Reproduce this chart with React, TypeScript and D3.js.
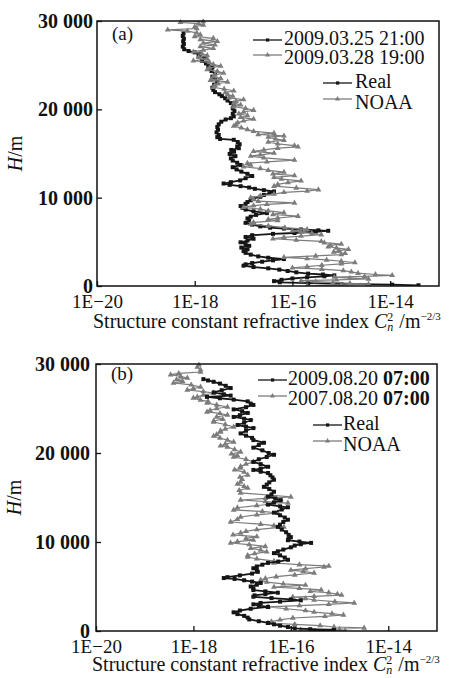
import React, { useEffect, useRef } from "react";
import * as d3 from "d3";

type Pt = [number, number]; // [height in m, Cn2]

const xTickValues = [1e-20, 1e-18, 1e-16, 1e-14];
const xTickLabels = ["1E\u221220", "1E-18", "1E-16", "1E-14"];
const yTickValues = [0, 10000, 20000, 30000];
const yTickLabels = ["0", "10 000", "20 000", "30 000"];
const seriesNames = ["Real", "NOAA"];
const datesA = ["2009.03.25 21:00", "2009.03.28 19:00"];
const datesB = ["2009.08.20 ", "2007.08.20 "];
const timesB = ["07:00", "07:00"];

// panel (a)
const realA: Pt[] = [
  [28600, 5.9e-19], [28300, 5.7e-19], [28000, 6.0e-19], [27700, 5.8e-19], [27400, 6.0e-19], [27100, 5.7e-19],
  [26800, 6.1e-19], [26600, 7.5e-19], [26450, 1.0e-18], [26300, 1.3e-18], [26050, 1.2e-18], [25800, 1.6e-18],
  [25500, 1.4e-18], [25200, 1.7e-18], [24950, 1.9e-18], [24750, 2.3e-18], [24600, 1.9e-18], [24350, 2.2e-18],
  [24000, 2.6e-18], [23700, 2.3e-18], [23400, 2.6e-18], [23100, 2.9e-18], [22800, 2.5e-18], [22450, 2.3e-18],
  [22200, 2.4e-18], [21950, 2.6e-18], [21700, 3.2e-18], [21500, 3.6e-18], [21250, 4.2e-18], [21000, 4.7e-18],
  [20700, 5.5e-18], [20400, 6.3e-18], [20100, 6.0e-18], [19800, 6.5e-18], [19500, 6.0e-18], [19200, 6.3e-18],
  [19000, 5.5e-18], [18850, 4.3e-18], [18600, 3.5e-18], [18300, 3.1e-18], [18000, 2.9e-18], [17700, 3.0e-18],
  [17400, 2.8e-18], [17100, 3.1e-18], [16850, 2.9e-18], [16650, 3.3e-18], [16550, 6.3e-18], [16300, 7.6e-18],
  [16050, 8.3e-18], [15800, 7.4e-18], [15600, 8.0e-18], [15400, 5.6e-18], [15200, 6.4e-18], [14950, 5.2e-18],
  [14700, 6.8e-18], [14450, 5.5e-18], [14200, 6.0e-18], [13950, 7.4e-18], [13700, 8.7e-18], [13450, 6.0e-18],
  [13200, 7.2e-18], [12950, 9.0e-18], [12700, 1.2e-17], [12450, 1.5e-17], [12200, 1.1e-17], [11950, 8.5e-18],
  [11750, 5.5e-18], [11600, 3.9e-18], [11450, 5.2e-18], [11300, 8.7e-18], [11150, 1.3e-17], [11000, 1.7e-17],
  [10850, 2.6e-17], [10700, 4.2e-17], [10500, 3.4e-17], [10300, 2.6e-17], [10100, 2.2e-17], [9900, 1.6e-17],
  [9700, 1.4e-17], [9500, 1.2e-17], [9300, 1.1e-17], [9050, 8.7e-18], [8850, 9.5e-18], [8650, 1.1e-17],
  [8450, 1.6e-17], [8250, 3.0e-17], [8050, 1.8e-17], [7850, 1.4e-17], [7650, 1.2e-17], [7400, 1.3e-17],
  [7150, 1.1e-17], [6950, 1.5e-17], [6750, 2.2e-17], [6600, 3.5e-17], [6500, 6.7e-17], [6400, 1.5e-16],
  [6300, 3.4e-16], [6250, 5.4e-16], [6150, 3.0e-16], [6000, 1.1e-16], [5900, 4.0e-17], [5750, 1.5e-17],
  [5550, 1.1e-17], [5350, 1.6e-17], [5150, 1.2e-17], [4950, 8.7e-18], [4750, 1.1e-17], [4550, 1.3e-17],
  [4350, 9.0e-18], [4150, 1.2e-17], [3950, 1.0e-17], [3750, 1.1e-17], [3550, 1.4e-17], [3350, 2.0e-17],
  [3200, 3.2e-17], [3050, 6.7e-17], [2900, 4.0e-17], [2750, 2.4e-17], [2600, 1.5e-17], [2450, 1.1e-17],
  [2300, 1.0e-17], [2150, 1.6e-17], [2000, 3.2e-17], [1850, 5.4e-17], [1700, 8.0e-17], [1550, 1.2e-16],
  [1400, 2.1e-16], [1300, 4.2e-16], [1200, 7.2e-16], [1100, 4.5e-16], [980, 2.0e-16], [850, 1.0e-16],
  [700, 6.0e-17], [550, 4.2e-17], [420, 5.5e-17], [320, 2.1e-16], [230, 1.0e-15], [150, 1.1e-14], [80, 3.8e-14],
];

const noaaA: Pt[] = [
  [29950, 1.5e-18], [29850, 5.1e-19], [29700, 1.2e-18], [29550, 1.5e-18], [29350, 1.0e-18], [29150, 1.1e-18],
  [29000, 2.8e-19], [28850, 7.1e-19], [28650, 1.1e-18], [28450, 1.3e-18], [28250, 1.0e-18], [28050, 2.4e-18],
  [27900, 1.3e-18], [27700, 2.9e-18], [27500, 1.5e-18], [27300, 2.6e-18], [27100, 1.3e-18], [26900, 2.4e-18],
  [26700, 1.5e-18], [26500, 9.4e-19], [26300, 1.4e-18], [26100, 1.8e-18], [25900, 1.2e-18], [25700, 1.8e-18],
  [25500, 9.4e-19], [25300, 2.0e-18], [25100, 2.4e-18], [24900, 3.4e-18], [24700, 2.0e-18], [24500, 1.8e-18],
  [24300, 2.9e-18], [24100, 3.9e-18], [23900, 2.6e-18], [23700, 2.4e-18], [23500, 3.4e-18], [23300, 2.1e-18],
  [23100, 4.7e-18], [22900, 3.0e-18], [22700, 2.6e-18], [22500, 2.4e-18], [22300, 4.0e-18], [22100, 6.3e-18],
  [21900, 4.2e-18], [21700, 4.7e-18], [21500, 6.0e-18], [21300, 5.0e-18], [21100, 1.0e-17], [20900, 7.0e-18],
  [20700, 6.3e-18], [20500, 8.7e-18], [20300, 6.3e-18], [20100, 1.1e-17], [19900, 1.6e-17], [19700, 1.0e-17],
  [19500, 8.0e-18], [19300, 1.2e-17], [19100, 8.7e-18], [18900, 1.6e-17], [18700, 1.0e-17], [18500, 7.6e-18],
  [18300, 7.0e-18], [18100, 6.3e-18], [17900, 9.0e-18], [17700, 1.2e-17], [17500, 1.6e-17], [17300, 4.2e-17],
  [17150, 2.0e-17], [17000, 6.7e-17], [16850, 3.2e-17], [16650, 4.5e-17], [16500, 6.7e-17], [16300, 3.2e-17],
  [16100, 5.0e-17], [15900, 1.1e-16], [15750, 1.3e-16], [15600, 5.0e-17], [15400, 2.6e-17], [15250, 1.6e-17],
  [15050, 4.2e-17], [14850, 2.2e-17], [14700, 1.4e-17], [14500, 2.6e-17], [14250, 1.1e-16], [14050, 3.0e-17],
  [13900, 1.2e-17], [13700, 1.4e-17], [13500, 1.0e-17], [13300, 2.2e-17], [13100, 3.2e-17], [12900, 6.7e-17],
  [12700, 4.0e-17], [12500, 1.1e-16], [12300, 4.2e-17], [12100, 6.0e-17], [11900, 1.5e-16], [11700, 8.1e-17],
  [11500, 5.0e-17], [11300, 4.2e-17], [11100, 1.2e-16], [10900, 3.4e-16], [10750, 2.0e-16], [10600, 6.7e-17],
  [10400, 4.2e-17], [10200, 2.2e-17], [10000, 1.4e-17], [9800, 1.6e-17], [9600, 2.0e-17], [9400, 1.1e-16],
  [9250, 3.0e-17], [9100, 1.6e-17], [8900, 1.0e-17], [8700, 2.2e-17], [8500, 3.2e-17], [8300, 6.7e-17],
  [8100, 4.0e-17], [7900, 1.3e-16], [7700, 5.0e-17], [7550, 3.2e-17], [7400, 5.0e-17], [7200, 1.6e-17],
  [7000, 1.4e-17], [6800, 3.2e-17], [6600, 7.0e-17], [6400, 2.0e-16], [6250, 1.0e-16], [6100, 1.5e-16],
  [5950, 2.5e-16], [5800, 3.9e-16], [5650, 1.5e-16], [5500, 6.7e-17], [5350, 4.0e-17], [5200, 1.2e-16],
  [5050, 3.9e-16], [4900, 4.5e-16], [4750, 1.0e-15], [4600, 6.0e-16], [4450, 5.4e-16], [4300, 8.0e-16],
  [4150, 1.4e-15], [4000, 9.0e-16], [3850, 7.0e-16], [3700, 1.2e-15], [3550, 1.0e-15], [3400, 3.0e-16],
  [3250, 6.7e-17], [3100, 2.0e-16], [2950, 5.0e-16], [2800, 1.0e-15], [2650, 1.9e-15], [2500, 1.0e-15],
  [2350, 4.0e-16], [2200, 2.0e-16], [2050, 1.0e-16], [1900, 4.0e-16], [1750, 1.1e-15], [1600, 1.6e-15],
  [1450, 2.2e-15], [1300, 5.0e-15], [1200, 1.1e-14], [1100, 3.0e-15], [1000, 7.2e-16], [900, 1.5e-15],
  [800, 3.6e-15], [700, 8.0e-16], [600, 1.5e-16], [500, 3.0e-16], [400, 6.7e-16], [300, 1.5e-15],
  [200, 3.6e-15], [100, 1.0e-15], [30, 2.0e-16],
];

// panel (b)
const realB: Pt[] = [
  [28300, 1.6e-18], [28150, 2.0e-18], [28000, 2.6e-18], [27800, 3.5e-18], [27550, 4.6e-18], [27300, 5.8e-18],
  [27050, 3.8e-18], [26800, 2.6e-18], [26600, 4.2e-18], [26450, 5.8e-18], [26300, 1.9e-18], [26150, 3.5e-18],
  [26000, 6.7e-18], [25800, 1.3e-17], [25550, 1.5e-17], [25400, 1.7e-17], [25150, 1.2e-17], [24900, 6.7e-18],
  [24700, 1.0e-17], [24500, 1.3e-17], [24250, 9.0e-18], [24050, 6.7e-18], [23850, 1.1e-17], [23700, 1.5e-17],
  [23400, 1.1e-17], [23150, 8.1e-18], [22950, 1.2e-17], [22800, 1.7e-17], [22500, 1.2e-17], [22200, 9.3e-18],
  [21950, 1.2e-17], [21700, 1.6e-17], [21450, 1.7e-17], [21150, 2.8e-17], [20900, 2.2e-17], [20600, 1.7e-17],
  [20300, 2.6e-17], [20000, 3.5e-17], [19800, 4.5e-17], [19550, 3.2e-17], [19300, 2.2e-17], [19000, 1.7e-17],
  [18750, 2.4e-17], [18450, 3.4e-17], [18250, 2.4e-17], [18100, 1.7e-17], [17900, 2.4e-17], [17750, 3.4e-17],
  [17500, 3.8e-17], [17250, 4.2e-17], [17000, 4.5e-17], [16700, 3.6e-17], [16450, 3.2e-17], [16200, 2.8e-17],
  [15950, 3.6e-17], [15650, 4.5e-17], [15350, 4.0e-17], [15100, 3.4e-17], [14900, 4.8e-17], [14700, 6.2e-17],
  [14450, 4.5e-17], [14200, 3.4e-17], [14000, 6.0e-17], [13900, 8.7e-17], [13650, 6.5e-17], [13300, 4.5e-17],
  [13000, 6.0e-17], [12750, 7.5e-17], [12500, 8.7e-17], [12250, 7.0e-17], [11950, 6.0e-17], [11700, 5.4e-17],
  [11400, 6.5e-17], [11100, 8.0e-17], [10800, 9.0e-17], [10550, 1.0e-16], [10350, 9.0e-17], [10200, 8.7e-17],
  [10050, 1.5e-16], [9900, 2.6e-16], [9750, 1.6e-16], [9600, 1.2e-16], [9400, 1.0e-16], [9150, 7.0e-17],
  [8950, 5.4e-17], [8750, 4.5e-17], [8500, 6.0e-17], [8250, 7.5e-17], [8000, 8.7e-17], [7800, 5.5e-17],
  [7650, 3.4e-17], [7450, 2.6e-17], [7250, 2.0e-17], [7050, 1.7e-17], [6850, 2.0e-17], [6650, 2.1e-17],
  [6450, 1.6e-17], [6250, 9.0e-18], [6050, 5.0e-18], [5950, 4.2e-18], [5850, 7.0e-18], [5700, 1.1e-17],
  [5550, 1.6e-17], [5400, 2.4e-17], [5200, 2.0e-17], [5000, 1.5e-17], [4800, 1.7e-17], [4600, 1.7e-17],
  [4450, 3.0e-17], [4300, 5.4e-17], [4150, 3.0e-17], [4000, 1.8e-17], [3850, 1.7e-17], [3700, 4.0e-17],
  [3550, 1.0e-16], [3450, 1.6e-16], [3300, 6.0e-17], [3150, 2.4e-17], [3000, 1.7e-17], [2850, 2.2e-17],
  [2700, 3.4e-17], [2500, 1.5e-17], [2300, 9.0e-18], [2100, 6.7e-18], [1900, 8.0e-18], [1700, 1.1e-17],
  [1500, 1.3e-17], [1300, 1.4e-17], [1100, 2.2e-17], [900, 3.4e-17], [750, 4.5e-17], [600, 6.0e-17],
  [450, 8.7e-17], [300, 1.2e-16], [200, 2.5e-16], [110, 7.7e-16], [50, 3.0e-16],
];

const noaaB: Pt[] = [
  [29900, 1.3e-18], [29650, 1.2e-18], [29350, 1.4e-18], [29100, 1.4e-18], [28950, 5.0e-19], [28800, 3.4e-19],
  [28600, 5.5e-19], [28430, 7.5e-19], [28250, 4.5e-19], [28050, 6.0e-19], [27870, 3.9e-19], [27650, 9.0e-19],
  [27420, 1.4e-18], [27250, 1.0e-18], [27080, 7.5e-19], [26900, 1.6e-18], [26740, 2.6e-18], [26500, 1.6e-18],
  [26300, 1.2e-18], [26180, 1.0e-18], [25950, 1.4e-18], [25800, 2.0e-18], [25620, 1.9e-18], [25400, 3.0e-18],
  [25170, 5.0e-18], [25000, 3.0e-18], [24800, 2.2e-18], [24610, 1.9e-18], [24450, 3.5e-18], [24270, 5.0e-18],
  [24050, 3.0e-18], [23800, 4.0e-18], [23600, 2.6e-18], [23480, 2.6e-18], [23200, 4.5e-18], [22920, 6.7e-18],
  [22700, 4.5e-18], [22500, 3.6e-18], [22360, 3.6e-18], [22100, 3.0e-18], [21900, 2.6e-18], [21690, 3.5e-18],
  [21450, 5.0e-18], [21240, 6.7e-18], [21000, 4.5e-18], [20800, 3.6e-18], [20670, 5.0e-18], [20400, 7.0e-18],
  [20110, 9.3e-18], [19900, 6.0e-18], [19700, 8.0e-18], [19550, 6.7e-18], [19300, 1.2e-17], [18990, 1.7e-17],
  [18750, 1.2e-17], [18500, 9.3e-18], [18310, 9.3e-18], [18100, 7.0e-18], [17850, 1.1e-17], [17530, 1.3e-17],
  [17300, 9.0e-18], [17050, 1.0e-17], [16740, 9.3e-18], [16500, 8.0e-18], [16250, 1.1e-17], [16070, 1.3e-17],
  [15800, 8.7e-18], [15510, 9.3e-18], [15250, 4.0e-17], [15060, 1.0e-16], [14900, 3.0e-17], [14720, 9.3e-18],
  [14550, 3.0e-17], [14380, 8.7e-17], [14100, 2.0e-17], [13850, 8.0e-18], [13600, 6.7e-18], [13430, 2.6e-17],
  [13260, 5.4e-17], [13050, 2.0e-17], [12810, 9.3e-18], [12550, 8.0e-18], [12250, 5.8e-18], [12000, 2.4e-17],
  [11850, 4.5e-17], [11690, 7.2e-17], [11400, 2.0e-17], [11200, 1.2e-17], [11010, 9.3e-18], [10800, 6.5e-18],
  [10600, 2.0e-17], [10400, 1.2e-17], [10220, 1.7e-17], [10050, 8.0e-18], [9890, 5.8e-18], [9700, 1.4e-17],
  [9500, 3.0e-17], [9300, 1.5e-17], [9100, 2.4e-17], [8900, 3.2e-17], [8700, 1.8e-17], [8500, 1.3e-17],
  [8310, 1.3e-17], [8100, 2.0e-17], [7850, 4.5e-17], [7640, 4.5e-17], [7450, 1.5e-16], [7300, 6.0e-16],
  [7190, 4.8e-16], [7000, 2.0e-16], [6850, 1.0e-16], [6700, 1.8e-16], [6520, 3.0e-16], [6300, 1.2e-16],
  [6100, 5.0e-17], [5900, 3.0e-17], [5730, 2.4e-17], [5500, 3.2e-17], [5300, 7.0e-17], [5150, 2.0e-16],
  [4940, 4.5e-17], [4800, 1.5e-16], [4610, 4.2e-16], [4450, 2.5e-16], [4300, 6.0e-16], [4150, 9.0e-16],
  [4040, 1.1e-15], [3900, 3.0e-16], [3820, 1.1e-16], [3650, 2.0e-16], [3480, 3.0e-16], [3300, 8.0e-16],
  [3150, 2.0e-15], [3000, 6.0e-16], [2850, 1.5e-16], [2700, 3.4e-17], [2500, 8.0e-17], [2300, 2.0e-16],
  [2130, 3.0e-16], [1950, 7.0e-16], [1800, 1.2e-15], [1650, 5.0e-16], [1460, 1.1e-16], [1250, 6.0e-17],
  [1050, 4.0e-17], [900, 3.4e-17], [750, 1.2e-16], [600, 4.0e-16], [450, 7.7e-16], [340, 3.2e-15],
  [220, 1.0e-15], [110, 1.6e-16], [30, 1.3e-15],
];

const BLACK = "#151515";
const GRAY = "#7c7c7c";
const FONT = "'Liberation Serif', 'Times New Roman', serif";

type PanelCfg = {
  left: number; right: number; top: number; bottom: number;
  tag: string; real: Pt[]; noaa: Pt[];
  dates: string[]; times?: string[];
  yPad: number; titleDy: number; grayOnTop: boolean;
  leg: { lineX: number; textX: number; rowY: number[]; nameLineX: number; nameX: number; nameY: number[] };
};

const panels: PanelCfg[] = [
  {
    left: 97, right: 439, top: 21, bottom: 286, tag: "(a)", real: realA, noaa: noaaA,
    dates: datesA, yPad: 4, titleDy: 42, grayOnTop: true,
    leg: { lineX: 253, textX: 284, rowY: [45, 64], nameLineX: 323, nameX: 355, nameY: [88, 109] },
  },
  {
    left: 96, right: 437, top: 364, bottom: 631, tag: "(b)", real: realB, noaa: noaaB,
    dates: datesB, times: timesB, yPad: 6, titleDy: 40, grayOnTop: false,
    leg: { lineX: 258, textX: 288, rowY: [385, 405], nameLineX: 313, nameX: 343, nameY: [430, 451] },
  },
];

function drawPanel(svg: d3.Selection<SVGSVGElement, unknown, null, undefined>, p: PanelCfg) {
  const g = svg.append("g");
  const x = d3.scaleLog().domain([1e-20, 1e-13]).range([p.left, p.right]);
  const y = d3.scaleLinear().domain([0, 30000]).range([p.bottom, p.top]);

  const clipId = "clip" + p.tag.replace(/\W/g, "");
  svg.append("defs").append("clipPath").attr("id", clipId)
    .append("rect").attr("x", p.left).attr("y", p.top - 2)
    .attr("width", p.right - p.left).attr("height", p.bottom - p.top + 2);

  const line = d3.line<Pt>().x(d => x(d[1])).y(d => y(d[0]));
  const plot = g.append("g").attr("clip-path", `url(#${clipId})`);

  // Real: black line, dense square markers
  const drawReal = () => {
    plot.append("path").datum(p.real).attr("d", line)
      .attr("fill", "none").attr("stroke", BLACK).attr("stroke-width", 1.8);
    plot.append("g").selectAll("rect").data(p.real).join("rect")
      .attr("x", d => x(d[1]) - 2).attr("y", d => y(d[0]) - 2)
      .attr("width", 4).attr("height", 4).attr("fill", BLACK);
  };
  // NOAA: gray line, triangle markers
  const tri = d3.symbol().type(d3.symbolTriangle).size(15);
  const drawNoaa = () => {
    plot.append("path").datum(p.noaa).attr("d", line)
      .attr("fill", "none").attr("stroke", GRAY).attr("stroke-width", 1.2);
    plot.append("g").selectAll("path").data(p.noaa).join("path")
      .attr("d", tri as any)
      .attr("transform", d => `translate(${x(d[1])},${y(d[0])})`)
      .attr("fill", GRAY);
  };
  if (p.grayOnTop) { drawReal(); drawNoaa(); } else { drawNoaa(); drawReal(); }

  // frame
  g.append("rect").attr("x", p.left).attr("y", p.top)
    .attr("width", p.right - p.left).attr("height", p.bottom - p.top)
    .attr("fill", "none").attr("stroke", "#111").attr("stroke-width", 1.5);

  // axes with inward ticks
  const xAxis = g.append("g").attr("transform", `translate(0,${p.bottom})`)
    .call(d3.axisBottom(x).tickValues(xTickValues)
      .tickFormat((_d, i) => xTickLabels[i]).tickSize(-5).tickPadding(9));
  xAxis.select(".domain").remove();
  xAxis.selectAll("line").attr("stroke", "#111").attr("stroke-width", 1.3);
  xAxis.selectAll("text").attr("font-family", FONT).attr("font-size", 19).attr("fill", "#111");

  const yAxis = g.append("g").attr("transform", `translate(${p.left},0)`)
    .call(d3.axisLeft(y).tickValues(yTickValues)
      .tickFormat((_d, i) => yTickLabels[i]).tickSize(-5).tickPadding(p.yPad));
  yAxis.select(".domain").remove();
  yAxis.selectAll("line").attr("stroke", "#111").attr("stroke-width", 1.3);
  yAxis.selectAll("text").attr("font-family", FONT).attr("font-size", 20)
    .attr("font-weight", "bold").attr("fill", "#111");

  // y title
  const yt = g.append("text")
    .attr("transform", `translate(${p.left - 75},${(p.top + p.bottom) / 2}) rotate(-90)`)
    .attr("text-anchor", "middle").attr("font-family", FONT).attr("font-size", 20).attr("fill", "#111");
  yt.append("tspan").attr("font-style", "italic").text("H");
  yt.append("tspan").text("/m");

  // x title
  const xt = g.append("text").attr("x", p.left - 4).attr("y", p.bottom + p.titleDy)
    .attr("font-family", FONT).attr("font-size", 20).attr("fill", "#111");
  xt.append("tspan").text("Structure constant refractive index ");
  xt.append("tspan").attr("font-style", "italic").text("C");
  xt.append("tspan").attr("font-style", "italic").attr("font-size", 12).attr("dy", 3).text("n");
  xt.append("tspan").attr("font-size", 12).attr("dx", -6).attr("dy", -10).text("2");
  xt.append("tspan").attr("dy", 7).attr("dx", 1).text(" /m");
  xt.append("tspan").attr("font-size", 11).attr("dy", -8).text("\u22122/3");

  // tag
  g.append("text").attr("x", p.left + 15).attr("y", p.leg.rowY[0] - 5)
    .attr("font-family", FONT).attr("font-size", 19).attr("fill", "#111").text(p.tag);

  // legend
  const colors = [BLACK, GRAY];
  const drawSample = (x0: number, yy: number, i: number) => {
    g.append("line").attr("x1", x0).attr("x2", x0 + 29).attr("y1", yy).attr("y2", yy)
      .attr("stroke", colors[i]).attr("stroke-width", 1.3);
    if (i === 0) {
      g.append("rect").attr("x", x0 + 13).attr("y", yy - 1.6).attr("width", 3.2).attr("height", 3.2).attr("fill", BLACK);
    } else {
      g.append("path").attr("d", d3.symbol().type(d3.symbolTriangle).size(11) as any)
        .attr("transform", `translate(${x0 + 14.5},${yy})`).attr("fill", GRAY);
    }
  };
  p.dates.forEach((t, i) => {
    const by = p.leg.rowY[i];
    drawSample(p.leg.lineX, by - (i === 0 ? 5 : 9), i);
    const tx = g.append("text").attr("x", p.leg.textX).attr("y", by)
      .attr("font-family", FONT).attr("font-size", 20).attr("fill", "#111");
    tx.append("tspan").text(t);
    if (p.times) tx.append("tspan").attr("font-weight", "bold").text(p.times[i]);
  });
  seriesNames.forEach((s, i) => {
    const by = p.leg.nameY[i];
    drawSample(p.leg.nameLineX, by - (i === 0 ? 5 : 10), i);
    g.append("text").attr("x", p.leg.nameX).attr("y", by)
      .attr("font-family", FONT).attr("font-size", 20).attr("fill", "#111").text(s);
  });
}

export default function App() {
  const ref = useRef<SVGSVGElement>(null);
  useEffect(() => {
    if (!ref.current) return;
    const svg = d3.select(ref.current);
    svg.selectAll("*").remove();
    panels.forEach(p => drawPanel(svg, p));
  }, []);
  return (
    <svg ref={ref} width={449} height={678}
      style={{ position: "absolute", left: 0, top: 0, background: "#fff" }} />
  );
}
